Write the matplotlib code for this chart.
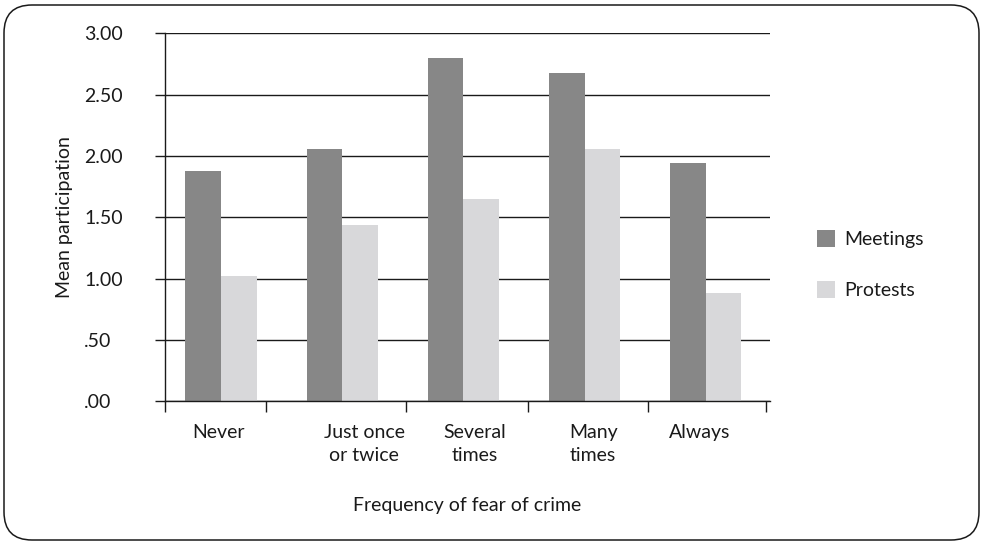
import matplotlib
matplotlib.use("Agg")
import numpy as np
import matplotlib.pyplot as plt
import matplotlib.patches as mpatches

# Data
categories = ["Never", "Just once\nor twice", "Several\ntimes", "Many\ntimes", "Always"]
meetings = [1.88, 2.06, 2.80, 2.68, 1.94]
protests = [1.02, 1.44, 1.65, 2.06, 0.88]
series_names = ["Meetings", "Protests"]
y_ticks = [0.0, 0.5, 1.0, 1.5, 2.0, 2.5, 3.0]
y_tick_labels = [".00", ".50", "1.00", "1.50", "2.00", "2.50", "3.00"]

plt.rcParams['font.family'] = ['Lato', 'DejaVu Sans']
plt.rcParams['font.size'] = 14
text_color = "#1a1a1a"

fig = plt.figure(figsize=(9.82, 5.42), dpi=100)
ax = fig.add_axes([0.168, 0.2596, 0.616, 0.679])

x = np.arange(len(categories))
w = 0.293
ax.bar(x - w / 2, meetings, w, color="#878787", label=series_names[0], zorder=3)
ax.bar(x + w / 2, protests, w, color="#d8d8da", label=series_names[1], zorder=3)

ax.set_xlim(-0.462, 4.528)
ax.set_ylim(0, 3.0)

# horizontal gridlines in black
ax.set_yticks(y_ticks)
ax.set_yticklabels(y_tick_labels, ha="left")
ax.yaxis.grid(True, color="#1a1a1a", linewidth=1.0, zorder=1)
ax.tick_params(axis="y", length=7, width=1.0, color="#1a1a1a", pad=51,
               labelcolor=text_color)

# category labels (no tick marks) and separator ticks
label_shift = [-0.02, 0.18, 0.09, 0.07, -0.05]
ax.set_xticks(x + np.array(label_shift))
ax.set_xticklabels(categories, linespacing=1.45)
ax.tick_params(axis="x", length=0, pad=16, labelcolor=text_color)
ax.set_xticks([-0.462, 0.37, 1.53, 2.53, 3.52, 4.5], minor=True)
ax.tick_params(axis="x", which="minor", length=8, width=1.0, color="#1a1a1a")

for s in ["top", "right"]:
    ax.spines[s].set_visible(False)
for s in ["left", "bottom"]:
    ax.spines[s].set_color("#1a1a1a")
    ax.spines[s].set_linewidth(1.0)
    ax.spines[s].set_zorder(4)

ax.set_ylabel("Mean participation", color=text_color)
ax.yaxis.set_label_coords(-0.152, 0.5)
ax.set_xlabel("Frequency of fear of crime", labelpad=24, color=text_color)

leg = fig.legend(loc="center left", bbox_to_anchor=(0.814, 0.512), frameon=False,
                 handlelength=0.95, handleheight=1.0, handletextpad=0.45,
                 labelspacing=1.7, fontsize=14)
for t in leg.get_texts():
    t.set_color(text_color)

# rounded frame around the whole chart
frame = mpatches.FancyBboxPatch((4, 2), 975, 535,
                                boxstyle="round,pad=0,rounding_size=28",
                                transform=None, facecolor="none",
                                edgecolor="#1a1a1a", linewidth=1.1)
fig.patches.append(frame)

fig.savefig("out.png", dpi=100)
